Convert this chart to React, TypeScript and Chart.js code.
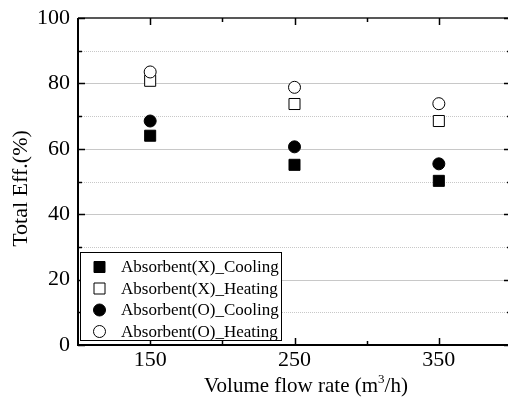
import React, { useEffect, useRef } from "react";
import { Chart, registerables } from "chart.js";

Chart.register(...registerables);

const flowRates = [150, 250, 350];
const absXCooling = [64.0, 55.1, 50.2];
const absXHeating = [80.8, 73.7, 68.5];
const absOCooling = [68.5, 60.6, 55.4];
const absOHeating = [83.5, 78.8, 73.8];
const seriesLabels = [
  "Absorbent(X)_Cooling",
  "Absorbent(X)_Heating",
  "Absorbent(O)_Cooling",
  "Absorbent(O)_Heating",
];
const xTickValues = [150, 250, 350];
const xMinorTicks = [200, 300, 400];
const yLabelTicks = [0, 20, 40, 60, 80, 100];
const yMinorTicks = [10, 30, 50, 70, 90];
const xTitle = ["Volume flow rate (m", "3", "/h)"];
const yTitle = "Total Eff.(%)";

const FONT = "'Liberation Serif', 'Times New Roman', serif";

const styles = [
  { shape: "rect", filled: true },
  { shape: "rect", filled: false },
  { shape: "circle", filled: true },
  { shape: "circle", filled: false },
];

function drawMarker(ctx: CanvasRenderingContext2D, shape: string, filled: boolean, x: number, y: number) {
  ctx.save();
  ctx.beginPath();
  if (shape === "rect") {
    ctx.rect(x - 5.5, y - 5.5, 11, 11);
  } else {
    ctx.arc(x, y, 6, 0, Math.PI * 2);
  }
  ctx.fillStyle = filled ? "#000" : "#fff";
  ctx.fill();
  ctx.lineWidth = 1;
  ctx.strokeStyle = "#000";
  ctx.stroke();
  ctx.restore();
}

const framePlugin = {
  id: "framePlugin",
  beforeDatasetsDraw(chart: any) {
    const ctx: CanvasRenderingContext2D = chart.ctx;
    const { left, right, top, bottom } = chart.chartArea;
    const xs = chart.scales.x;
    const ys = chart.scales.y;
    ctx.save();
    yLabelTicks.forEach((v) => {
      if (v === 0 || v === 100) return;
      const y = Math.round(ys.getPixelForValue(v)) + 0.5;
      ctx.beginPath();
      ctx.setLineDash([]);
      ctx.strokeStyle = "#c8c8c8";
      ctx.lineWidth = 1;
      ctx.moveTo(left, y);
      ctx.lineTo(right, y);
      ctx.stroke();
    });
    yMinorTicks.forEach((v) => {
      const y = Math.round(ys.getPixelForValue(v)) + 0.5;
      ctx.beginPath();
      ctx.setLineDash([1, 1]);
      ctx.strokeStyle = "#c8c8c8";
      ctx.lineWidth = 1;
      ctx.moveTo(left, y);
      ctx.lineTo(right, y);
      ctx.stroke();
    });
    ctx.setLineDash([]);
    ctx.strokeStyle = "#000";
    ctx.lineWidth = 2;
    ctx.beginPath();
    ctx.moveTo(left, top);
    ctx.lineTo(left, bottom);
    ctx.lineTo(right, bottom);
    ctx.stroke();
    ctx.lineWidth = 1.5;
    ctx.strokeStyle = "#222";
    ctx.beginPath();
    ctx.moveTo(left, top);
    ctx.lineTo(right, top);
    ctx.lineTo(right, bottom);
    ctx.stroke();
    ctx.lineWidth = 1.5;
    ctx.strokeStyle = "#000";
    const xTick = (v: number, len: number) => {
      const x = Math.round(xs.getPixelForValue(v)) + 0.5;
      ctx.beginPath();
      ctx.moveTo(x, bottom);
      ctx.lineTo(x, bottom - len);
      ctx.moveTo(x, top);
      ctx.lineTo(x, top + len);
      ctx.stroke();
    };
    xTickValues.forEach((v) => xTick(v, 7));
    xMinorTicks.forEach((v) => xTick(v, 4));
    const yTick = (v: number, len: number) => {
      const y = Math.round(ys.getPixelForValue(v)) + 0.5;
      ctx.beginPath();
      ctx.moveTo(left, y);
      ctx.lineTo(left + len, y);
      ctx.moveTo(right, y);
      ctx.lineTo(right - len, y);
      ctx.stroke();
    };
    yLabelTicks.forEach((v) => yTick(v, 7));
    yMinorTicks.forEach((v) => yTick(v, 4));
    ctx.restore();
  },
  afterDatasetsDraw(chart: any) {
    const ctx: CanvasRenderingContext2D = chart.ctx;
    const { left, bottom } = chart.chartArea;
    ctx.save();
    const bx = left + 2.5;
    const by = bottom - 92.5;
    const bw = 201;
    const bh = 88;
    ctx.fillStyle = "#fff";
    ctx.fillRect(bx, by, bw, bh);
    ctx.strokeStyle = "#000";
    ctx.lineWidth = 1;
    ctx.strokeRect(bx, by, bw, bh);
    ctx.font = `17px ${FONT}`;
    ctx.textBaseline = "middle";
    ctx.textAlign = "left";
    chart.data.datasets.forEach((ds: any, i: number) => {
      const y = by + 14.5 + i * 21.5;
      drawMarker(ctx, styles[i].shape, styles[i].filled, bx + 19, y);
      ctx.fillStyle = "#000";
      ctx.fillText(ds.label, bx + 40.5, y + 1);
    });
    ctx.font = `21px ${FONT}`;
    ctx.textBaseline = "alphabetic";
    const w0 = ctx.measureText(xTitle[0]).width;
    ctx.font = `13px ${FONT}`;
    const w1 = ctx.measureText(xTitle[1]).width;
    ctx.font = `21px ${FONT}`;
    const w2 = ctx.measureText(xTitle[2]).width;
    const total = w0 + w1 + w2;
    const cx = 306;
    let x = cx - total / 2;
    const baseY = 392;
    ctx.fillText(xTitle[0], x, baseY);
    x += w0;
    ctx.font = `13px ${FONT}`;
    ctx.fillText(xTitle[1], x, baseY - 9);
    x += w1;
    ctx.font = `21px ${FONT}`;
    ctx.fillText(xTitle[2], x, baseY);
    ctx.save();
    ctx.translate(27, 188.5);
    ctx.rotate(-Math.PI / 2);
    ctx.font = `22px ${FONT}`;
    ctx.textAlign = "center";
    ctx.textBaseline = "alphabetic";
    ctx.fillText(yTitle, 0, 0);
    ctx.restore();
    ctx.restore();
  },
};

export default function App() {
  const ref = useRef<HTMLCanvasElement | null>(null);
  useEffect(() => {
    if (!ref.current) return;
    const series = [absXCooling, absXHeating, absOCooling, absOHeating];
    const chart = new Chart(ref.current, {
      type: "scatter",
      data: {
        datasets: series.map((vals, i) => ({
          label: seriesLabels[i],
          data: flowRates.map((f, j) => ({ x: f, y: vals[j] })),
          pointStyle: styles[i].shape as any,
          pointRadius: styles[i].shape === "rect" ? 7.8 : 6,
          pointHoverRadius: styles[i].shape === "rect" ? 7.8 : 6,
          backgroundColor: styles[i].filled ? "#000" : "#fff",
          borderColor: "#000",
          borderWidth: 1,
          order: 3 - i,
        })),
      },
      options: {
        responsive: false,
        animation: false,
        events: [],
        layout: { autoPadding: false, padding: { top: 18, right: 1, left: 0, bottom: 0 } },
        plugins: {
          legend: { display: false },
          tooltip: { enabled: false },
        },
        scales: {
          x: {
            type: "linear",
            min: 100,
            max: 400,
            afterBuildTicks: (s: any) => {
              s.ticks = xTickValues.map((v) => ({ value: v }));
            },
            afterFit: (s: any) => {
              s.height = 57;
              s.paddingLeft = 0;
              s.paddingRight = 0;
            },
            grid: { display: false, drawTicks: false },
            border: { display: false },
            ticks: {
              font: { family: FONT, size: 22 },
              color: "#000",
              padding: 2,
              maxRotation: 0,
            },
          },
          y: {
            min: 0,
            max: 100,
            afterBuildTicks: (s: any) => {
              s.ticks = yLabelTicks.map((v) => ({ value: v }));
            },
            afterFit: (s: any) => {
              s.width = 78;
              s.paddingTop = 0;
              s.paddingBottom = 0;
            },
            grid: { display: false, drawTicks: false },
            border: { display: false },
            ticks: {
              font: { family: FONT, size: 22 },
              color: "#000",
              padding: 8,
            },
          },
        },
      },
      plugins: [framePlugin],
    });
    return () => chart.destroy();
  }, []);
  return (
    <div
      style={{
        position: "absolute",
        left: 0,
        top: 0,
        width: 508,
        height: 402,
        overflow: "hidden",
        background: "#fff",
      }}
    >
      <canvas ref={ref} width={512} height={402} style={{ display: "block" }} />
    </div>
  );
}
